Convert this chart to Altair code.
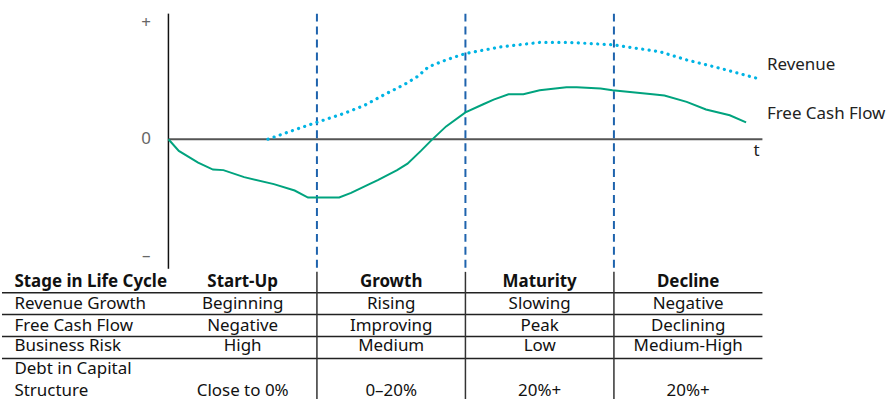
import altair as alt
import pandas as pd

# ---- life-cycle curves (t in stage units: 0 = start, 1..3 = stage boundaries) ----
rev_t = [0.67, 0.86, 1.00, 1.18, 1.32, 1.45, 1.59, 1.68, 1.75, 1.87, 2.00, 2.23,
         2.50, 2.70, 2.99, 3.31, 3.49, 3.71, 3.97]
rev_v = [0.00, 0.085, 0.145, 0.22, 0.29, 0.38, 0.47, 0.54, 0.62, 0.68, 0.735, 0.79,
         0.83, 0.83, 0.81, 0.75, 0.68, 0.61, 0.52]

fcf_t = [0.00, 0.07, 0.20, 0.30, 0.37, 0.51, 0.71, 0.85, 0.94, 0.99, 1.15, 1.23,
         1.36, 1.41, 1.54, 1.61, 1.70, 1.77, 1.87, 2.00, 2.12, 2.19, 2.29, 2.39,
         2.50, 2.68, 2.75, 2.91, 2.99, 3.26, 3.34, 3.49, 3.62, 3.78, 3.89]
fcf_v = [0.00, -0.10, -0.20, -0.26, -0.265, -0.325, -0.385, -0.44, -0.50, -0.50,
         -0.50, -0.46, -0.38, -0.35, -0.265, -0.21, -0.10, -0.01, 0.11, 0.23, 0.30,
         0.34, 0.385, 0.385, 0.42, 0.445, 0.445, 0.435, 0.42, 0.385, 0.375, 0.32,
         0.255, 0.205, 0.145]

boundaries = [1, 2, 3]
axis_marks = ["+", "0", "–"]
axis_vals = [1, 0, -1]

# ---- table contents ----
stages = ["Start-Up", "Growth", "Maturity", "Decline"]
stage_mid = [0.5, 1.5, 2.5, 3.5]
row_names = ["Revenue Growth", "Free Cash Flow", "Business Risk"]
revenue_growth = ["Beginning", "Rising", "Slowing", "Negative"]
free_cash_flow = ["Negative", "Improving", "Peak", "Declining"]
business_risk = ["High", "Medium", "Low", "Medium-High"]
debt_in_capital = ["Close to 0%", "0–20%", "20%+", "20%+"]

FONT = "Noto Sans"
FS = 17
W = 887
X_DOM = [-1.1208, 4.8322]
xs = alt.Scale(domain=X_DOM, nice=False, zero=False)
Y_DOM = [-1.128, 1.1795]
ys = alt.Scale(domain=Y_DOM, nice=False, zero=False)

CYAN = "#00B4E4"
GREEN = "#00A37E"
DASH = "#1E63AD"

X = lambda f: alt.X(f, type="quantitative", scale=xs, axis=None)
Y = lambda f: alt.Y(f, type="quantitative", scale=ys, axis=None)

rev = pd.DataFrame({"t": rev_t, "v": rev_v})
fcf = pd.DataFrame({"t": fcf_t, "v": fcf_v})

y_axis = alt.Chart(pd.DataFrame({"t": [0], "a": [1.077], "b": [-1.111]})).mark_rule(
    color="#111111", strokeWidth=1.5).encode(x=X("t"), y=Y("a"), y2="b")
zero_line = alt.Chart(pd.DataFrame({"a": [0], "b": [4], "v": [0]})).mark_rule(
    color="#555555", strokeWidth=2).encode(x=X("a"), x2="b", y=Y("v"))
dashes = alt.Chart(pd.DataFrame({"t": boundaries, "a": [1.077] * 3, "b": [-1.111] * 3})).mark_rule(
    color=DASH, strokeWidth=2, strokeDash=[8, 5]).encode(x=X("t"), y=Y("a"), y2="b")
rev_line = alt.Chart(rev).mark_line(
    color=CYAN, strokeWidth=3.2, strokeDash=[0.1, 6.4], strokeCap="round").encode(
    x=X("t"), y=Y("v"))
fcf_line = alt.Chart(fcf).mark_line(color=GREEN, strokeWidth=2).encode(x=X("t"), y=Y("v"))
ticks = alt.Chart(pd.DataFrame({"s": axis_marks, "v": axis_vals, "t": [-0.15] * 3})).mark_text(
    font=FONT, fontSize=FS, color="#666666", align="center", baseline="middle").encode(
    x=X("t"), y=Y("v"), text="s:N")
t_label = alt.Chart(pd.DataFrame({"s": ["t"], "t": [3.96], "v": [-0.10]})).mark_text(
    font=FONT, fontSize=FS, color="#222222", align="center", baseline="middle").encode(
    x=X("t"), y=Y("v"), text="s:N")
series_labels = alt.Chart(pd.DataFrame({"s": ["Revenue", "Free Cash Flow"],
                                        "t": [4.03, 4.03], "v": [0.64, 0.22]})).mark_text(
    font=FONT, fontSize=FS, color="#222222", align="left", baseline="middle").encode(
    x=X("t"), y=Y("v"), text="s:N")

top = alt.layer(y_axis, zero_line, dashes, fcf_line, rev_line, ticks, t_label,
                series_labels).properties(width=W, height=270)

# ---- table below the curves ----
T_H = 129
rs = alt.Scale(domain=[0, 5.864], reverse=True, nice=False, zero=False)
R = lambda f: alt.Y(f, type="quantitative", scale=rs, axis=None)

hlines = alt.Chart(pd.DataFrame({"r": [1, 2, 3, 4], "a": [X_DOM[0]] * 4, "b": [4] * 4})).mark_rule(
    color="#222222", strokeWidth=1.5).encode(x=X("a"), x2="b", y=R("r"))
vlines = alt.Chart(pd.DataFrame({"t": boundaries, "a": [0.05] * 3, "b": [5.864] * 3})).mark_rule(
    color="#333333", strokeWidth=1.5).encode(x=X("t"), y=R("a"), y2="b")

# row centres (in row units, 0 = top of the table)
row_pos = [1.5, 2.5, 3.45]
debt_pos = [4.47, 5.47]

label_x = -1.037
left_rows = pd.DataFrame({
    "s": row_names + ["Debt in Capital", "Structure"],
    "r": row_pos + debt_pos,
    "t": [label_x] * 5,
})
left_text = alt.Chart(left_rows).mark_text(
    font=FONT, fontSize=FS, color="#111111", align="left", baseline="middle").encode(
    x=X("t"), y=R("r"), text="s:N")

header_rows = pd.DataFrame({
    "s": ["Stage in Life Cycle"] + stages,
    "r": [0.5] * 5,
    "t": [label_x] + stage_mid,
})
header_left = alt.Chart(header_rows.iloc[:1]).mark_text(
    font=FONT, fontSize=FS, fontWeight="bold", color="#111111", align="left",
    baseline="middle").encode(x=X("t"), y=R("r"), text="s:N")
header_mid = alt.Chart(header_rows.iloc[1:]).mark_text(
    font=FONT, fontSize=FS, fontWeight="bold", color="#111111", align="center",
    baseline="middle").encode(x=X("t"), y=R("r"), text="s:N")

cells = []
for vals, r in [(revenue_growth, row_pos[0]), (free_cash_flow, row_pos[1]),
                (business_risk, row_pos[2]), (debt_in_capital, debt_pos[1])]:
    for s, m in zip(vals, stage_mid):
        cells.append({"s": s, "t": m, "r": r})
cell_text = alt.Chart(pd.DataFrame(cells)).mark_text(
    font=FONT, fontSize=FS, color="#111111", align="center", baseline="middle").encode(
    x=X("t"), y=R("r"), text="s:N")

table = alt.layer(hlines, vlines, left_text, header_left, header_mid, cell_text).properties(
    width=W, height=T_H)

chart = alt.vconcat(top, table, spacing=0, bounds="flush").properties(
    padding=0, background="white").configure_view(stroke="transparent")

chart.save("out.html", embed_options={"renderer": "svg", "actions": False})
